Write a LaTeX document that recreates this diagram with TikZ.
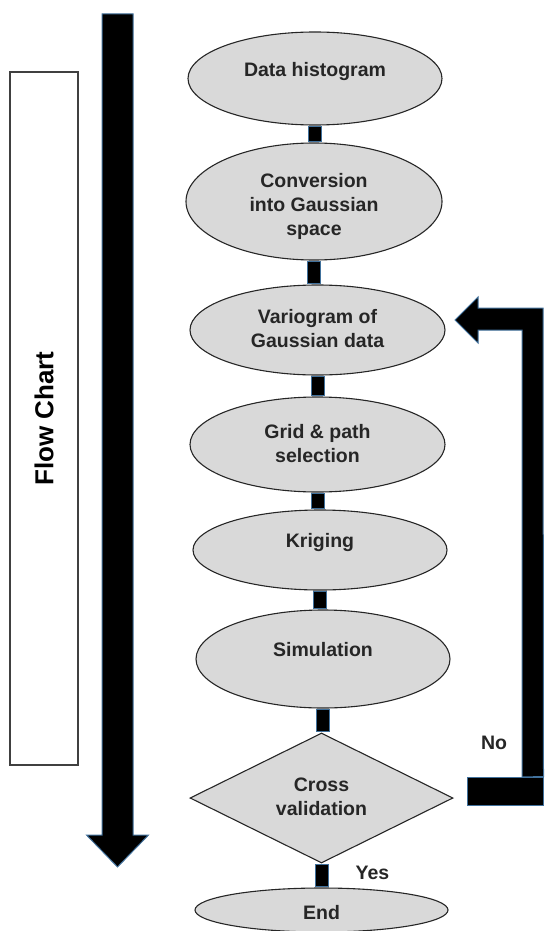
\documentclass[tikz,border=0pt]{standalone}
\usepackage{fontspec}
\setmainfont{Liberation Sans}
\usetikzlibrary{shapes.geometric,calc}
\definecolor{edgeblue}{RGB}{65,113,156}
\definecolor{procfill}{RGB}{217,217,217}
\begin{document}
\begin{tikzpicture}[x=1pt,y=-1pt,
  proc/.style={ellipse, draw=black!85, line width=1.1pt, fill=procfill, inner sep=0pt},
  decide/.style={diamond, draw=black!85, line width=1.1pt, fill=procfill, inner sep=0pt},
  txt/.style={font=\bfseries\fontsize{19.5}{24}\selectfont, align=center, text=black!85, inner sep=0pt},
  conn/.style={fill=black, draw=edgeblue, line width=1pt},
  bigarrow/.style={fill=black, draw=edgeblue, line width=1pt, line join=miter},
]
\useasboundingbox (0,0) rectangle (544,931);

% flow chart label box
\node[draw=black!75, line width=1.6pt, minimum width=693pt, minimum height=68pt,
      rotate=90, inner sep=0pt, font=\bfseries\fontsize{26}{30}\selectfont] (fc) at (44,418.5) {Flow Chart};

% big downward arrow
\draw[bigarrow] (102,14) -- (133,14) -- (133,835) -- (148.5,835) -- (117.5,867)
  -- (86.5,835) -- (102,835) -- cycle;

% process shapes
\node[proc, minimum width=254pt, minimum height=93pt] (e1) at (315,78.5) {};
\node[proc, minimum width=256pt, minimum height=117pt] (e2) at (314,201.5) {};
\node[proc, minimum width=255pt, minimum height=90pt] (e3) at (317.5,330) {};
\node[proc, minimum width=255pt, minimum height=95pt] (e4) at (317.5,444.5) {};
\node[proc, minimum width=254pt, minimum height=80pt] (e5) at (320,550) {};
\node[proc, minimum width=254pt, minimum height=98pt] (e6) at (323,659) {};
\node[decide, minimum width=263pt, minimum height=130pt, aspect=2.02] (d) at (321.5,798) {};
\node[proc, minimum width=253pt, minimum height=44pt] (end) at (321.5,910) {};

% texts
\node[txt] (t1) at (315,72) {Data histogram};
\node[txt] (t2) at (314,206) {Conversion\\into Gaussian\\space};
\node[txt] (t3) at (317.5,329) {Variogram of\\Gaussian data};
\node[txt] (t4) at (317.5,443.5) {Grid \& path\\selection};
\node[txt] (t5) at (320,542) {Kriging};
\node[txt] (t6) at (323,650) {Simulation};
\node[txt] (t7) at (321.5,796.5) {Cross\\validation};
\node[txt] (t8) at (321.5,913) {End};

% connectors
\foreach \a/\b in {e1/e2,e2/e3,e3/e4,e4/e5,e5/e6,e6/d,d/end}
  \draw[conn] ($(\a.south)+(-6.5,1)$) rectangle ($(\a.south |- \b.north)+(6.5,-1)$);

% feedback loop
\coordinate (fbtip) at (455,320);
\node[conn, minimum width=76pt, minimum height=28pt, inner sep=0pt] (fbblock) at (505,791) {};
\draw[bigarrow] (fbblock.north east) -- (543,308) -- (478,308) -- (478,297) -- (fbtip)
  -- (478,343) -- (478,330) -- (522,330) -- (522,777) -- cycle;

\node[txt] (no) at (494,743) {No};
\node[txt] (yes) at (372.5,873) {Yes};
\end{tikzpicture}
\end{document}
